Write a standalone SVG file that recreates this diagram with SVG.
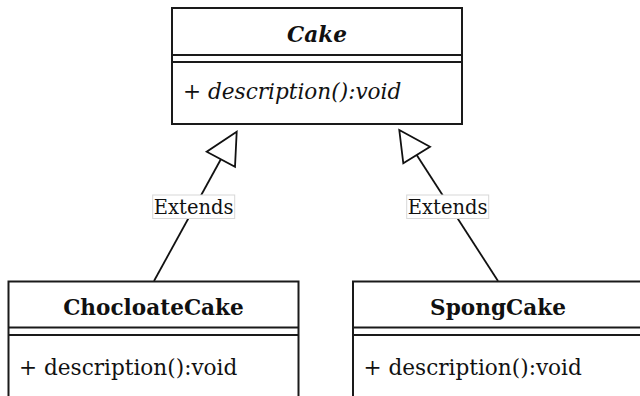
<svg xmlns="http://www.w3.org/2000/svg" width="640" height="396" viewBox="0 0 640 396">
  <style>
    .box { fill: #ffffff; stroke: #1a1a1a; stroke-width: 2; }
    .sep { stroke: #1a1a1a; stroke-width: 2; }
    .title { font-family: "DejaVu Serif", "Liberation Serif", serif; font-size: 21.6px; font-weight: bold; fill: #111; text-anchor: middle; }
    .member { font-family: "DejaVu Serif", "Liberation Serif", serif; font-size: 21.6px; fill: #111; }
    .abstract { font-style: italic; }
    .edge { fill: none; stroke: #111; stroke-width: 1.8; }
    .head { fill: #ffffff; stroke: #111; stroke-width: 1.8; stroke-linejoin: miter; }
    .lbl-bg { fill: #ffffff; stroke: #d8d8d8; stroke-width: 1; }
    .lbl { font-family: "DejaVu Serif", "Liberation Serif", serif; font-size: 19.5px; fill: #111; text-anchor: middle; }
  </style>

  <!-- inheritance connectors -->
  <g id="connectors">
    <g id="edge-chocolate-cake">
      <line class="edge" x1="154" y1="281" x2="221" y2="159"/>
      <polygon class="head" points="236.7,131.7 206.7,151.7 235,166.7"/>
      <rect class="lbl-bg" x="152.7" y="195" width="82" height="23.5"/>
      <text class="lbl" x="193.7" y="213.5">Extends</text>
    </g>
    <g id="edge-spong-cake">
      <line class="edge" x1="498" y1="281" x2="416.7" y2="155"/>
      <polygon class="head" points="399.3,130 430,146.7 403.3,163.3"/>
      <rect class="lbl-bg" x="406.7" y="195" width="82" height="23.5"/>
      <text class="lbl" x="447.7" y="213.5">Extends</text>
    </g>
  </g>

  <!-- abstract base class -->
  <g id="node-cake">
    <rect class="box" x="172" y="8" width="290" height="116"/>
    <line class="sep" x1="172" y1="55" x2="462" y2="55"/>
    <line class="sep" x1="172" y1="62" x2="462" y2="62"/>
    <text class="title abstract" x="317" y="41.5">Cake</text>
    <text class="member abstract" x="183" y="98.5">+ description():void</text>
  </g>

  <g id="node-chocloate-cake">
    <rect class="box" x="8.5" y="281.5" width="290" height="130"/>
    <line class="sep" x1="8.5" y1="327.5" x2="298.5" y2="327.5"/>
    <line class="sep" x1="8.5" y1="335" x2="298.5" y2="335"/>
    <text class="title" x="153.5" y="315">ChocloateCake</text>
    <text class="member" x="19" y="374.5">+ description():void</text>
  </g>

  <g id="node-spong-cake">
    <rect class="box" x="353" y="281.5" width="290" height="130"/>
    <line class="sep" x1="353" y1="327.5" x2="643" y2="327.5"/>
    <line class="sep" x1="353" y1="335" x2="643" y2="335"/>
    <text class="title" x="498" y="315">SpongCake</text>
    <text class="member" x="363.5" y="374.5">+ description():void</text>
  </g>
</svg>
